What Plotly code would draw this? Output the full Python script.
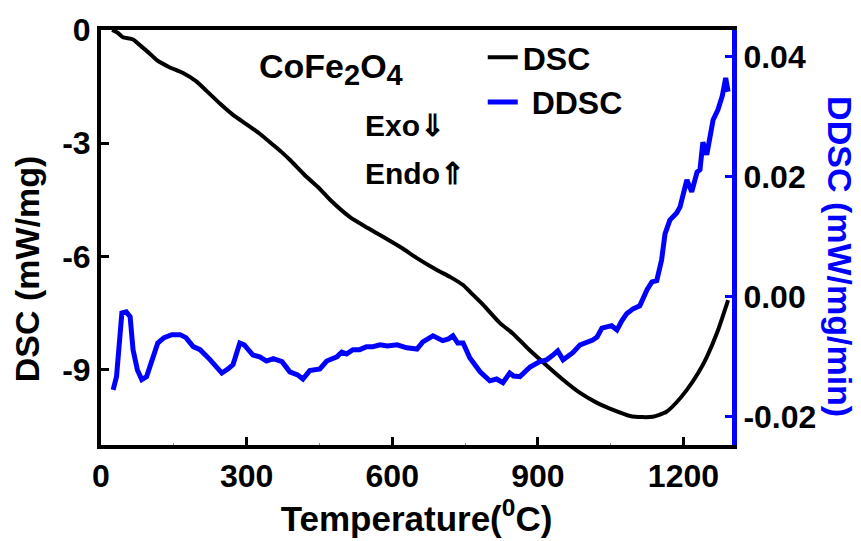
import plotly.graph_objects as go

# DSC trace of CoFe2O4 (mW/mg) versus temperature (°C)
dsc_temp = [23, 35, 45, 66, 80, 100, 115, 140, 169, 195, 218, 245, 272, 300, 327, 355,
            375, 389, 420, 450, 472, 513, 550, 581, 620, 650, 692, 720, 746, 765, 787,
            822, 849, 880, 910, 950, 987, 1020, 1055, 1090, 1115, 1137, 1150, 1165,
            1185, 1207, 1230, 1248, 1270, 1292]
dsc_vals = [0.0, -0.08, -0.19, -0.25, -0.4, -0.62, -0.8, -0.98, -1.14, -1.35, -1.62,
            -1.95, -2.25, -2.5, -2.75, -3.05, -3.27, -3.44, -3.85, -4.2, -4.5, -4.96,
            -5.25, -5.48, -5.78, -6.04, -6.36, -6.55, -6.76, -7.0, -7.28, -7.77, -8.05,
            -8.45, -8.8, -9.25, -9.62, -9.87, -10.07, -10.23, -10.26, -10.25, -10.2,
            -10.12, -9.88, -9.54, -9.1, -8.67, -8.0, -7.16]

# Derivative DSC (mW/mg/min)
ddsc_temp = [25, 32, 43, 52, 60, 66, 75, 84, 94, 105, 117, 130, 146, 163, 175, 190, 204,
             225, 249, 262, 272, 279, 286, 295, 313, 327, 341, 355, 373, 389, 405, 416,
             430, 451, 465, 486, 496, 506, 519, 533, 547, 560, 575, 590, 610, 630, 651,
             663, 684, 704, 716, 725, 735, 746, 760, 781, 801, 815, 828, 842, 850, 863,
             884, 904, 918, 930, 941, 952, 962, 972, 987, 1000, 1013, 1022, 1032, 1052,
             1063, 1073, 1083, 1096, 1110, 1125, 1135, 1145, 1155, 1162, 1172, 1186,
             1193, 1207, 1217, 1228, 1234, 1240, 1248, 1261, 1271, 1280, 1287, 1292]
ddsc_vals = [-0.0155, -0.0133, -0.0027, -0.0025, -0.0033, -0.0088, -0.0122, -0.0138,
             -0.0133, -0.0105, -0.0077, -0.0068, -0.0063, -0.0063, -0.0068, -0.0083,
             -0.0088, -0.0105, -0.0127, -0.0120, -0.0113, -0.0095, -0.0077, -0.0080,
             -0.0097, -0.0100, -0.0107, -0.0103, -0.0108, -0.0125, -0.0130, -0.0137,
             -0.0123, -0.0120, -0.0107, -0.0100, -0.0092, -0.0095, -0.0088, -0.0088,
             -0.0083, -0.0083, -0.0080, -0.0082, -0.0080, -0.0085, -0.0087, -0.0075,
             -0.0065, -0.0073, -0.0070, -0.0065, -0.0077, -0.0077, -0.0102, -0.0125,
             -0.0140, -0.0137, -0.0143, -0.0127, -0.0132, -0.0133, -0.0117, -0.0108,
             -0.0105, -0.0098, -0.0090, -0.0105, -0.0100, -0.0093, -0.0080, -0.0077,
             -0.0072, -0.0067, -0.0052, -0.0048, -0.0055, -0.0040, -0.0028, -0.0020,
             -0.0015, 0.0012, 0.0025, 0.0027, 0.0062, 0.0105, 0.0128, 0.0140, 0.0150,
             0.0195, 0.0175, 0.0208, 0.0212, 0.0258, 0.0237, 0.0295, 0.0312, 0.0335,
             0.0365, 0.0342]

x_ticks = [0, 300, 600, 900, 1200]
y_ticks = [0, -3, -6, -9]
y_tick_text = ["0", "-3", "-6", "-9"]
y2_ticks = [-0.02, 0.0, 0.02, 0.04]
y2_tick_text = ["-0.02", "0.00", "0.02", "0.04"]

FONT = "Liberation Sans, Arial, sans-serif"
BLUE = "#0000ff"

fig = go.Figure()
fig.add_trace(go.Scatter(x=dsc_temp, y=dsc_vals, mode="lines", name="DSC",
                         line=dict(color="black", width=4, shape="spline", smoothing=0.6),
                         legendgroup="a"))
fig.add_trace(go.Scatter(x=ddsc_temp, y=ddsc_vals, mode="lines", name="\u00a0DDSC",
                         line=dict(color=BLUE, width=5), yaxis="y2", legendgroup="b"))

fig.update_layout(
    width=861, height=541,
    margin=dict(l=101, r=129, t=30, b=96, autoexpand=False),
    paper_bgcolor="white", plot_bgcolor="white",
    font=dict(family=FONT, size=32, color="black", weight="bold"),
    showlegend=True,
    legend=dict(x=0.605, y=1.0, xanchor="left", yanchor="top", bgcolor="rgba(0,0,0,0)",
                font=dict(size=32, weight="bold"), tracegroupgap=0, itemwidth=30),
    xaxis=dict(range=[0, 1300], tickvals=x_ticks, ticks="inside", ticklen=8, tickwidth=3,
               tickcolor="black", showline=True, linewidth=4, linecolor="black",
               mirror=True, showgrid=False, zeroline=False, automargin=False,
               minor=dict(tickvals=[150, 450, 750, 1050], ticks="inside", ticklen=2,
                          tickwidth=1, tickcolor="#888888"),
               tickfont=dict(size=32, weight="bold"),
               title=dict(text="Temperature(<sup>0</sup>C)", standoff=4,
                          font=dict(size=35, weight="bold"))),
    yaxis=dict(range=[-11, 0], tickvals=y_ticks, ticktext=y_tick_text, ticks="inside",
               ticklen=8, tickwidth=3, tickcolor="black", showline=True, linewidth=4,
               linecolor="black", showgrid=False, zeroline=False, automargin=False,
               tickfont=dict(size=32, weight="bold")),
    yaxis2=dict(range=[-0.0247, 0.0445], overlaying="y", side="right",
                tickvals=y2_ticks, ticktext=y2_tick_text, ticks="inside", ticklen=7,
                tickwidth=3, tickcolor=BLUE, showline=True, linewidth=5, linecolor=BLUE,
                showgrid=False, zeroline=False, automargin=False,
                tickfont=dict(size=32, weight="bold", color="black")),
)

# Vertical axis titles
fig.add_annotation(x=-0.117, y=0.424, xref="paper", yref="paper", showarrow=False,
                   xanchor="center", yanchor="middle", textangle=-90,
                   text="DSC (mW/mg)", font=dict(size=34, weight="bold"))
fig.add_annotation(x=1.171, y=0.453, xref="paper", yref="paper", showarrow=False,
                   xanchor="center", yanchor="middle", textangle=90,
                   text="DDSC (mW/mg/min)", font=dict(size=34, weight="bold", color=BLUE))

# Sample label and heat-flow direction notes
sub = "<sub><span style='font-size:29px'>{}</span></sub>"
fig.add_annotation(x=0.248, y=0.905, xref="paper", yref="paper", showarrow=False,
                   xanchor="left", yanchor="middle",
                   text="CoFe" + sub.format("2") + "O" + sub.format("4"),
                   font=dict(size=34, weight="bold"))
fig.add_annotation(x=0.415, y=0.77, xref="paper", yref="paper", showarrow=False,
                   xanchor="left", yanchor="middle",
                   text="Exo\u21d3", font=dict(size=30, weight="bold"))
fig.add_annotation(x=0.415, y=0.655, xref="paper", yref="paper", showarrow=False,
                   xanchor="left", yanchor="middle",
                   text="Endo\u21d1", font=dict(size=30, weight="bold"))

fig.write_html("out.html")
